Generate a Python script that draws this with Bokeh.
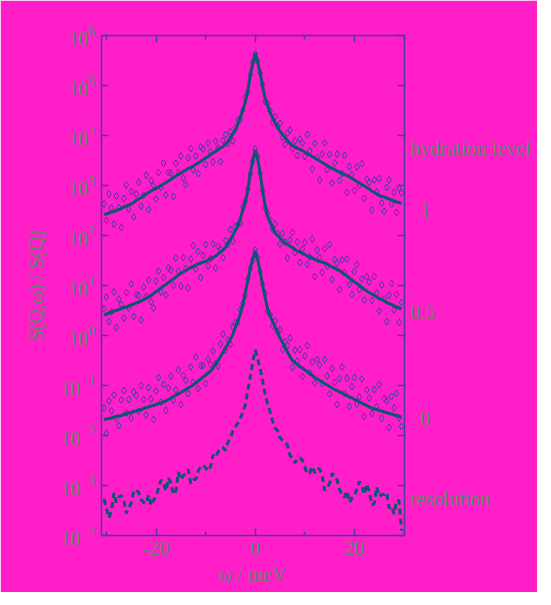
from bokeh.plotting import figure
from bokeh.models import Range1d, LogAxis, LinearAxis, FixedTicker, LogTickFormatter, CustomJSTickFormatter
from bokeh.embed import file_html
from bokeh.resources import INLINE

# energy transfer grid (meV)
omega_meV = [-30.5, -30, -29.5, -29, -28.5, -28, -27.5, -27, -26.5, -26, -25.5, -25, -24.5, -24, -23.5, -23,
             -22.5, -22, -21.5, -21, -20.5, -20, -19.5, -19, -18.5, -18, -17.5, -17, -16.5, -16, -15.5, -15,
             -14.5, -14, -13.5, -13, -12.5, -12, -11.5, -11, -10.5, -10, -9.5, -9, -8.5, -8, -7.5, -7, -6.5, -6,
             -5.5, -5, -4.5, -4, -3.5, -3, -2.5, -2, -1.5, -1, -0.5, 0, 0.5, 1, 1.5, 2, 2.5, 3, 3.5, 4, 4.5, 5,
             5.5, 6, 6.5, 7, 7.5, 8, 8.5, 9, 9.5, 10, 10.5, 11, 11.5, 12, 12.5, 13, 13.5, 14, 14.5, 15, 15.5, 16,
             16.5, 17, 17.5, 18, 18.5, 19, 19.5, 20, 20.5, 21, 21.5, 22, 22.5, 23, 23.5, 24, 24.5, 25, 25.5, 26,
             26.5, 27, 27.5, 28, 28.5, 29, 29.5]

# log10 of S(Q,w)/S(Q) (curves are vertically offset)
# hydration level 1 - data points
h1_data_log10 = [2.63, 2.30, 2.83, 2.55, 2.23, 2.79, 2.56, 2.16, 2.74, 3.01, 2.53, 2.88, 2.37, 2.83, 3.07, 2.59,
                 2.80, 3.21, 2.52, 3.10, 3.00, 2.73, 3.26, 2.96, 3.45, 2.81, 3.26, 3.25, 2.78, 3.44, 3.26, 3.59,
                 3.15, 3.02, 3.55, 3.74, 3.31, 3.59, 3.24, 3.77, 3.73, 3.42, 3.85, 3.68, 3.47, 3.89, 3.75, 3.48,
                 3.90, 4.02, 3.84, 4.08, 3.89, 4.16, 4.31, 4.32, 4.51, 4.76, 4.87, 5.22, 5.46, 5.63, 5.49, 5.25,
                 5.02, 4.68, 4.64, 4.49, 4.26, 4.38, 4.19, 4.24, 3.96, 3.82, 4.05, 4.11, 3.74, 3.89, 3.60, 3.93,
                 3.85, 3.58, 4.02, 3.69, 3.33, 3.84, 3.56, 3.11, 3.63, 3.85, 3.32, 3.62, 3.05, 3.45, 3.63, 3.10,
                 3.24, 3.60, 2.86, 3.38, 3.22, 2.90, 3.37, 3.01, 3.44, 2.74, 3.13, 3.06, 2.51, 3.11, 2.87, 3.14,
                 2.65, 2.48, 2.96, 3.11, 2.63, 2.86, 2.46, 2.95, 2.85]
# hydration level 1 - fit
h1_fit_log10 = [2.42, 2.43, 2.45, 2.47, 2.48, 2.50, 2.52, 2.54, 2.57, 2.59, 2.61, 2.63, 2.66, 2.70, 2.73, 2.76,
                2.80, 2.83, 2.86, 2.89, 2.92, 2.94, 2.97, 3.00, 3.03, 3.06, 3.09, 3.12, 3.16, 3.19, 3.22, 3.25,
                3.28, 3.31, 3.34, 3.36, 3.39, 3.42, 3.45, 3.48, 3.52, 3.55, 3.58, 3.62, 3.65, 3.68, 3.72, 3.75,
                3.78, 3.82, 3.88, 3.96, 4.03, 4.10, 4.23, 4.36, 4.51, 4.67, 4.90, 5.20, 5.45, 5.65, 5.46, 5.25,
                4.98, 4.74, 4.60, 4.46, 4.35, 4.26, 4.17, 4.08, 4.02, 3.96, 3.90, 3.84, 3.80, 3.77, 3.75, 3.72,
                3.70, 3.67, 3.64, 3.61, 3.58, 3.55, 3.52, 3.49, 3.46, 3.43, 3.40, 3.37, 3.34, 3.32, 3.29, 3.27,
                3.24, 3.22, 3.20, 3.17, 3.14, 3.11, 3.08, 3.05, 3.02, 2.99, 2.96, 2.93, 2.89, 2.86, 2.83, 2.80,
                2.78, 2.77, 2.75, 2.73, 2.71, 2.69, 2.67, 2.66, 2.64]
# hydration level 0.5 - data points
h05_data_log10 = [0.54, 0.77, 0.28, 0.47, 0.87, 0.16, 0.73, 0.62, 0.35, 0.86, 0.55, 1.03, 0.38, 0.82, 0.80, 0.31,
                  0.97, 0.78, 1.11, 0.67, 0.55, 1.09, 1.29, 0.87, 1.16, 0.81, 1.35, 1.31, 1.00, 1.55, 1.29, 0.99,
                  1.56, 1.34, 0.95, 1.53, 1.80, 1.33, 1.68, 1.16, 1.60, 1.82, 1.39, 1.54, 1.83, 1.35, 1.78, 1.73,
                  1.56, 1.90, 1.82, 2.12, 1.89, 2.18, 2.22, 2.25, 2.57, 2.68, 2.93, 3.23, 3.48, 3.73, 3.57, 3.24,
                  2.90, 2.55, 2.45, 2.31, 2.13, 2.23, 2.04, 1.83, 2.04, 1.87, 1.55, 1.91, 2.06, 1.66, 1.87, 1.46,
                  1.73, 1.86, 1.42, 1.57, 1.93, 1.18, 1.71, 1.56, 1.26, 1.74, 1.39, 1.82, 1.12, 1.52, 1.45, 0.92,
                  1.51, 1.26, 1.53, 1.02, 0.82, 1.28, 1.42, 0.92, 1.13, 0.71, 1.18, 1.07, 0.70, 1.18, 0.85, 0.49,
                  1.01, 0.73, 0.28, 0.81, 1.04, 0.51, 0.82, 0.26, 0.66]
h05_fit_log10 = [0.41, 0.43, 0.45, 0.47, 0.49, 0.50, 0.52, 0.54, 0.56, 0.57, 0.59, 0.61, 0.63, 0.65, 0.67, 0.69,
                 0.72, 0.74, 0.77, 0.80, 0.84, 0.88, 0.91, 0.95, 0.99, 1.02, 1.06, 1.10, 1.13, 1.17, 1.21, 1.24,
                 1.27, 1.30, 1.33, 1.36, 1.38, 1.41, 1.43, 1.45, 1.47, 1.48, 1.51, 1.54, 1.56, 1.59, 1.63, 1.67,
                 1.71, 1.76, 1.84, 1.92, 2.01, 2.10, 2.19, 2.34, 2.51, 2.67, 2.90, 3.24, 3.51, 3.71, 3.53, 3.25,
                 2.88, 2.60, 2.38, 2.26, 2.16, 2.05, 2.00, 1.95, 1.90, 1.85, 1.82, 1.79, 1.76, 1.72, 1.69, 1.67,
                 1.64, 1.62, 1.59, 1.57, 1.55, 1.52, 1.50, 1.48, 1.47, 1.45, 1.43, 1.40, 1.37, 1.35, 1.32, 1.30,
                 1.26, 1.22, 1.19, 1.15, 1.11, 1.07, 1.04, 1.00, 0.96, 0.92, 0.89, 0.86, 0.83, 0.80, 0.77, 0.74,
                 0.72, 0.69, 0.66, 0.64, 0.62, 0.59, 0.57, 0.55, 0.53]
# hydration level 0 - data points
h0_data_log10 = [-1.45, -1.95, -1.31, -1.51, -1.19, -1.65, -1.80, -1.29, -1.10, -1.55, -1.28, -1.65, -1.13, -1.20,
                 -1.52, -1.00, -1.28, -1.59, -1.04, -1.27, -1.68, -1.11, -0.84, -1.33, -0.98, -1.50, -1.05, -0.81,
                 -1.29, -1.09, -0.69, -1.38, -0.80, -0.90, -1.16, -0.63, -0.93, -0.43, -1.06, -0.60, -0.60, -0.96,
                 -0.47, -0.58, -0.31, -0.56, -0.61, -0.17, 0.03, -0.29, -0.09, -0.18, 0.17, 0.26, 0.26, 0.52, 0.64,
                 0.80, 1.13, 1.34, 1.50, 1.71, 1.56, 1.27, 1.02, 0.84, 0.49, 0.42, 0.19, 0.29, 0.08, 0.11, -0.28,
                 -0.13, -0.20, -0.05, -0.64, -0.29, -0.51, -0.28, -0.82, -0.41, -0.20, -0.74, -0.53, -0.95, -0.48,
                 -0.59, -0.96, -0.48, -0.81, -1.17, -0.66, -0.94, -1.38, -0.86, -0.63, -1.16, -0.85, -1.42, -1.02,
                 -0.84, -1.37, -1.23, -0.87, -1.62, -1.09, -1.25, -1.56, -1.08, -1.42, -0.98, -1.66, -1.26, -1.31,
                 -1.84, -1.22, -1.45, -1.16, -1.65, -1.82]
h0_fit_log10 = [-1.68, -1.67, -1.66, -1.65, -1.63, -1.62, -1.61, -1.60, -1.58, -1.57, -1.55, -1.54, -1.52, -1.51,
                -1.49, -1.48, -1.46, -1.44, -1.43, -1.41, -1.40, -1.38, -1.36, -1.35, -1.33, -1.31, -1.28, -1.25,
                -1.22, -1.19, -1.17, -1.14, -1.11, -1.08, -1.05, -1.02, -0.99, -0.95, -0.91, -0.87, -0.83, -0.79,
                -0.75, -0.71, -0.65, -0.57, -0.50, -0.42, -0.34, -0.25, -0.17, -0.08, 0.03, 0.16, 0.29, 0.43,
                0.62, 0.86, 1.10, 1.34, 1.54, 1.69, 1.52, 1.28, 1.00, 0.76, 0.53, 0.39, 0.28, 0.17, 0.06, -0.05,
                -0.14, -0.23, -0.33, -0.42, -0.50, -0.54, -0.58, -0.62, -0.65, -0.69, -0.72, -0.76, -0.80, -0.84,
                -0.87, -0.90, -0.93, -0.96, -0.99, -1.02, -1.05, -1.08, -1.10, -1.13, -1.15, -1.18, -1.20, -1.23,
                -1.25, -1.28, -1.30, -1.33, -1.35, -1.38, -1.40, -1.43, -1.45, -1.47, -1.48, -1.50, -1.51, -1.53,
                -1.54, -1.56, -1.57, -1.59, -1.60, -1.62, -1.63]
# resolution function
res_log10 = [-3.27, -3.46, -3.65, -3.51, -3.15, -3.34, -3.23, -3.20, -3.29, -3.56, -3.45, -3.35, -3.10, -3.09,
             -3.14, -3.28, -3.34, -3.36, -3.19, -3.40, -3.29, -3.23, -3.05, -2.89, -2.95, -3.11, -2.85, -2.95,
             -3.18, -3.11, -2.73, -2.88, -2.80, -2.76, -2.68, -2.96, -2.88, -2.88, -2.71, -2.63, -2.59, -2.65,
             -2.71, -2.62, -2.39, -2.44, -2.33, -2.26, -2.24, -2.30, -2.14, -2.04, -1.91, -1.83, -1.75, -1.66,
             -1.53, -1.39, -1.10, -0.82, -0.53, -0.29, -0.47, -0.66, -0.91, -1.18, -1.36, -1.53, -1.71, -1.85,
             -1.90, -2.04, -2.10, -2.14, -2.19, -2.40, -2.44, -2.55, -2.46, -2.45, -2.49, -2.63, -2.77, -2.75,
             -2.62, -2.75, -2.66, -2.67, -2.80, -3.10, -3.03, -2.96, -2.76, -2.80, -2.89, -3.08, -3.18, -3.24,
             -3.11, -3.34, -3.25, -3.22, -3.06, -2.92, -2.99, -3.18, -2.97, -3.12, -3.39, -3.36, -3.03, -3.22,
             -3.18, -3.18, -3.14, -3.45, -3.41, -3.57, -3.30, -3.30, -3.90]

y_ticks = [1e-4, 1e-3, 1e-2, 1e-1, 1e0, 1e1, 1e2, 1e3, 1e4, 1e5, 1e6]
x_major = [-20, 0, 20]
x_minor = [-30, -10, 10, 30]

# right-hand annotations, listed bottom to top, at the height (log10) where each sits
side_texts = ["resolution", "\u00a0\u00a00", "0.5", "\u00a0\u00a01", "hydration level"]
side_log10 = [-3.26, -1.64, 0.48, 2.52, 3.76]

BG = "#ff1ec8"
AX = "#4b3c9e"
LINE = "#0b5672"
PTS = "#4a3aa6"
TXT = "#5b8766"
FONT = "Liberation Serif"
FS = "20px"


def lin(vals):
    return [10.0 ** v for v in vals]


p = figure(width=537, height=592, x_range=Range1d(-31, 30.1), y_range=Range1d(1e-4, 1e6),
           y_axis_type="log", output_backend="svg", toolbar_location=None,
           min_border_left=101, min_border_right=133, min_border_top=35, min_border_bottom=57,
           background_fill_color=BG, border_fill_color=BG, outline_line_color=None)
p.grid.visible = False

bottom = p.below[0]
left = p.left[0]
top = LinearAxis()
right = LogAxis()
side = LogAxis()
p.add_layout(top, "above")
p.add_layout(right, "right")
p.add_layout(side, "right")

blank = CustomJSTickFormatter(code="return ''")

for ax in [bottom, top]:
    ax.ticker = FixedTicker(ticks=x_major, minor_ticks=x_minor)
for ax in [left, right]:
    ax.ticker = FixedTicker(ticks=y_ticks)

for ax in [bottom, left, top, right, side]:
    ax.axis_line_color = AX
    ax.axis_line_width = 1.5
    ax.major_tick_line_color = AX
    ax.major_tick_line_width = 1.5
    ax.minor_tick_line_width = 1.5
    ax.major_tick_in = 7
    ax.major_tick_out = 0
    ax.minor_tick_in = 4
    ax.minor_tick_out = 0
    ax.major_label_text_font = FONT
    ax.major_label_text_font_size = FS
    ax.major_label_text_color = TXT
    ax.axis_label_text_font = FONT
    ax.axis_label_text_font_size = FS
    ax.axis_label_text_color = TXT
    ax.axis_label_text_font_style = "normal"

bottom.minor_tick_line_color = AX
top.minor_tick_line_color = AX
left.minor_tick_line_color = None
right.minor_tick_line_color = None

top.formatter = blank
right.formatter = blank
top.major_label_standoff = 0
right.major_label_standoff = 0

# text column on the right, drawn as labels of an axis without line or ticks
side.ticker = FixedTicker(ticks=lin(side_log10))
side.formatter = CustomJSTickFormatter(args=dict(texts=side_texts), code="return texts[index]")
side.axis_line_color = None
side.major_tick_line_color = None
side.minor_tick_line_color = None
side.major_tick_in = 0
side.major_label_standoff = 6

bottom.formatter = CustomJSTickFormatter(code="return tick.toString()")
left.formatter = LogTickFormatter()
left.major_label_standoff = 6
bottom.major_label_standoff = 5
bottom.axis_label = "ω / meV"
bottom.axis_label_standoff = 5
left.axis_label = "S(Q,ω) / S(Q)"
left.axis_label_standoff = 11

for data, fit in [(h1_data_log10, h1_fit_log10), (h05_data_log10, h05_fit_log10), (h0_data_log10, h0_fit_log10)]:
    p.scatter(omega_meV, lin(data), marker="diamond", size=7, fill_color=None, line_color=PTS, line_width=1)
    p.line(omega_meV, lin(fit), line_color=LINE, line_width=3)

p.line(omega_meV, lin(res_log10), line_color=LINE, line_width=3, line_dash="6 4")

open("out.html", "w").write(file_html(p, INLINE))
